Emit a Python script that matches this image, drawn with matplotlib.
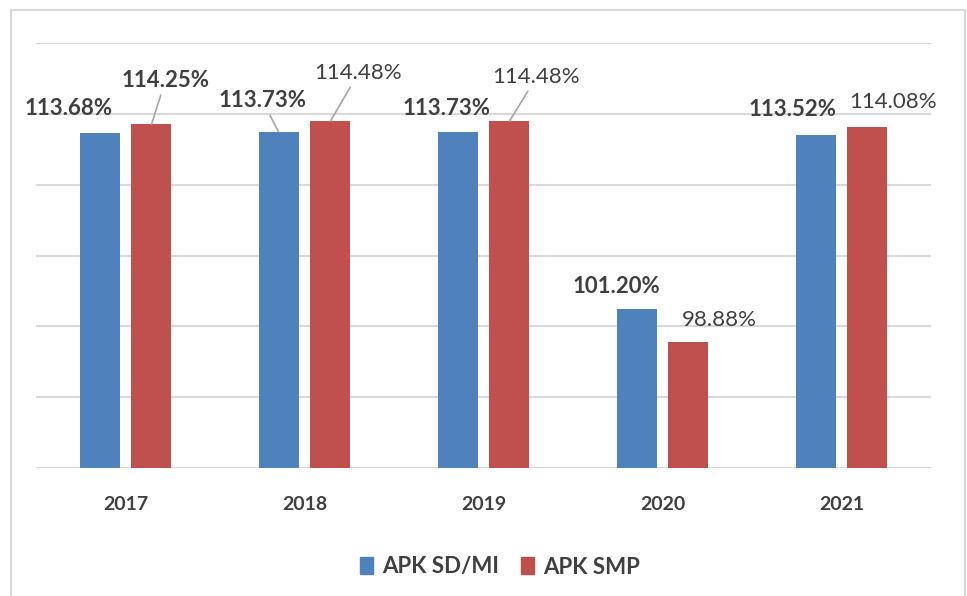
import matplotlib
matplotlib.use("Agg")
import matplotlib.pyplot as plt
import numpy as np
from matplotlib.patches import Rectangle

years = ["2017", "2018", "2019", "2020", "2021"]
sd_mi = [113.68, 113.73, 113.73, 101.20, 113.52]
smp = [114.25, 114.48, 114.48, 98.88, 114.08]
series_names = ["APK SD/MI", "APK SMP"]

# label placement (pixel offsets from bar top centre), bold flag, leader line
sd_labels = [(-31, 24, True, False), (-16, 31, True, True), (-11, 23, True, False),
             (-20, 23, True, False), (-23, 25, True, False)]
smp_labels = [(14, 44, True, True), (28, 48, False, True), (27, 44, False, True),
              (31, 22, False, False), (26, 25, False, False)]

BLUE = "#4F81BD"
RED = "#C0504D"
TXT = "#404040"
GRID = "#d9d9d9"

plt.rcParams["font.family"] = ["Lato", "DejaVu Sans"]

W, H = 967, 596
fig = plt.figure(figsize=(W / 100, H / 100), dpi=100)
ax = fig.add_axes([36 / W, 1 - 468 / H, (931 - 36) / W, (468 - 43) / H])

x = np.arange(len(years))
bw = 0.223
off = 0.145
ax.bar(x - off, sd_mi, width=bw, color=BLUE, zorder=3)
ax.bar(x + off, smp, width=bw, color=RED, zorder=3)

ax.set_ylim(90, 120)
ax.set_xlim(-0.5, len(years) - 0.5)
ax.set_yticks(np.arange(90, 121, 5))
ax.yaxis.grid(True, color=GRID, linewidth=1.5, zorder=0)
ax.tick_params(axis="y", left=False, labelleft=False)
ax.tick_params(axis="x", bottom=False, pad=17, labelsize=14, colors=TXT)
ax.set_xticks(x)
ax.set_xticklabels(years, fontweight="bold")
for s in ax.spines.values():
    s.set_visible(False)


def label(xpos, val, spec):
    dx, dy, bold, leader = spec
    kw = dict(xy=(xpos, val), xytext=(dx * 0.72, dy * 0.72), textcoords="offset points",
              ha="center", va="center", fontsize=16, color=TXT,
              fontweight="bold" if bold else "normal", zorder=5)
    if leader:
        kw["arrowprops"] = dict(arrowstyle="-", color="#a6a6a6", lw=1.2,
                                shrinkA=1, shrinkB=0)
    ax.annotate(f"{val:.2f}%", **kw)


for i in range(len(years)):
    label(x[i] - off, sd_mi[i], sd_labels[i])
    label(x[i] + off, smp[i], smp_labels[i])

handles = [Rectangle((0, 0), 1, 1, color=BLUE), Rectangle((0, 0), 1, 1, color=RED)]
fig.legend(handles, series_names, loc="center", ncol=2, frameon=False,
           bbox_to_anchor=(500 / W, 1 - 567 / H),
           prop={"weight": "bold", "size": 16}, handlelength=0.6, handleheight=0.8,
           handletextpad=0.4, columnspacing=1.0, labelcolor=TXT)

fig.patches.append(Rectangle((11 / W, -0.01), (965 - 11) / W, 1 - 10 / H + 0.01,
                             transform=fig.transFigure, fill=False,
                             edgecolor=GRID, linewidth=1.5))

fig.savefig("out.png", dpi=100, facecolor="white")
